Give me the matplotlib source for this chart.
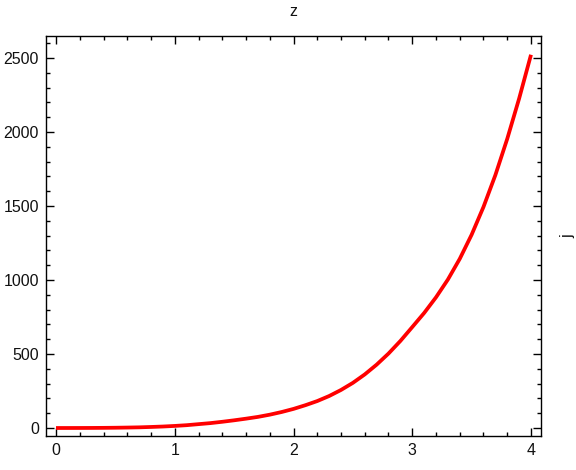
import matplotlib
matplotlib.use("Agg")
import matplotlib.pyplot as plt
from matplotlib.ticker import MultipleLocator

x_vals = [0.0, 0.1, 0.2, 0.3, 0.4, 0.5, 0.6, 0.7, 0.8, 0.9, 1.0,
          1.1, 1.2, 1.3, 1.4, 1.5, 1.6, 1.7, 1.8, 1.9, 2.0,
          2.1, 2.2, 2.3, 2.4, 2.5, 2.6, 2.7, 2.8, 2.9, 3.0,
          3.1, 3.2, 3.3, 3.4, 3.5, 3.6, 3.7, 3.8, 3.9, 4.0]
y_vals = [0.0, 0.05, 0.2, 0.5, 1.0, 1.8, 3.0, 4.5, 7.0, 10, 14,
          19, 26, 33, 42, 52, 63, 75, 90, 108, 129,
          154, 182, 216, 257, 305, 362, 428, 503, 588, 682,
          777, 883, 1003, 1143, 1306, 1494, 1709, 1954, 2226, 2522]
x_ticks = [0, 1, 2, 3, 4]
y_ticks = [0, 500, 1000, 1500, 2000, 2500]
top_label = "z"
right_label = "j"

plt.rcParams['font.family'] = ['Liberation Sans', 'DejaVu Sans']

fig = plt.figure(figsize=(5.76, 4.70), dpi=100)
ax = fig.add_axes([46/576, 1-436/470, (541-46)/576, (436-35.5)/470])

ax.plot(x_vals, y_vals, color='#ff0000', lw=2.7, solid_capstyle='butt',
        solid_joinstyle='round')

ax.set_xlim(-10/118.75, 4 + 10/118.75)
ax.set_ylim(-8/0.148, (428-35.5)/0.148)
ax.set_xticks(x_ticks)
ax.set_yticks(y_ticks)
ax.xaxis.set_minor_locator(MultipleLocator(0.2))
ax.yaxis.set_minor_locator(MultipleLocator(100))

for s in ax.spines.values():
    s.set_linewidth(1.0)
    s.set_color('black')

ax.tick_params(which='both', direction='in', top=True, right=True,
               labeltop=False, labelright=False, width=1.0, colors='black',
               labelsize=11.5, labelcolor='#111111')
ax.tick_params(which='major', length=6, pad=5)
ax.tick_params(which='minor', length=3)

ax.set_title(top_label, fontsize=11.5, pad=14, color='#111111')
ax.yaxis.set_label_position('right')
ax.set_ylabel(right_label, fontsize=11.5, rotation=90, labelpad=14, color='#111111')

fig.savefig("out.png", dpi=100)
